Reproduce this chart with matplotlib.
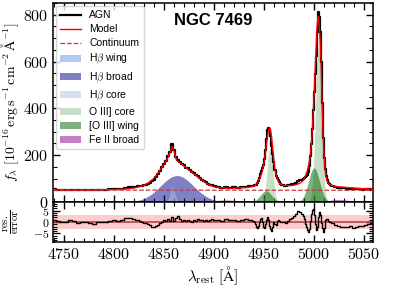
import numpy as np
import matplotlib
matplotlib.use("Agg")
import matplotlib.pyplot as plt
from matplotlib.ticker import MultipleLocator

plt.rcParams['font.family'] = 'serif'
plt.rcParams['font.serif'] = ['cmr10', 'DejaVu Serif']
plt.rcParams['mathtext.fontset'] = 'cm'
plt.rcParams['axes.formatter.use_mathtext'] = True
plt.rcParams['axes.unicode_minus'] = True

# ---------------- data ----------------
wave_a = [4740, 4744, 4748, 4752, 4756, 4760, 4764, 4768, 4772, 4776, 4780,
          4784, 4788, 4792, 4796, 4800, 4804, 4808, 4812, 4816, 4820]
wave_b = list(range(4822, 4901, 2))
wave_c = list(range(4904, 4941, 4))
wave_d = list(range(4941, 4971, 1))
wave_e = list(range(4972, 4989, 2))
wave_f = list(range(4989, 5017, 1))
wave_g = list(range(5018, 5061, 3))
wave = np.array(wave_a + wave_b + wave_c + wave_d + wave_e + wave_f + wave_g, dtype=float)

flux_agn = [
    # 4740-4820
    54, 52.5, 51.5, 51, 53, 52, 50, 51, 51.5, 50, 49.5, 52.5, 51.5, 52.5, 54, 55.5, 55, 57.5, 61, 63.5, 63.5,
    # 4822-4900
    65, 66.4, 67.8, 69.6, 71.1, 74.2, 78, 82.5, 88, 95, 105, 119, 134, 149, 163, 176, 195, 215, 246, 220,
    194, 180, 172, 164, 157, 147, 144, 136, 128, 123, 116, 111, 103, 96, 88, 84, 78, 73, 71, 67,
    # 4904-4940
    64.7, 61.8, 62.3, 61.1, 62, 61.5, 63.7, 65.6, 66.4, 68.9,
    # 4941-4970
    72.6, 73.6, 74.4, 79.2, 88.6, 102.3, 118.8, 134, 147, 159, 185, 224, 270, 306, 316, 307, 280, 238, 205, 172,
    137, 113, 103, 92.4, 84, 78, 74.4, 72.7, 72.3, 70.4,
    # 4972-4988
    69.2, 70.8, 72.8, 75.5, 78.5, 83, 89, 92, 95.5,
    # 4989-5016
    100, 103, 105, 110, 117, 130, 154, 196, 249, 313, 395, 470, 545, 622, 728, 812, 790, 725, 596, 423,
    275, 188, 143, 113, 94, 82.5, 76.6, 73,
    # 5018-5060
    69.2, 64, 60.5, 58.5, 58, 56.2, 56.2, 54, 54, 53.5, 53, 54, 53.8, 54.5, 54.2,
]

flux_model = [
    51, 51, 51, 51, 51, 51, 51, 51, 51, 51, 51.5, 52, 52, 52.5, 53, 53.5, 54, 55, 56, 58, 60,
    62, 64, 66, 69, 72, 76, 81, 87, 94, 102, 111, 123, 136, 148, 160, 174, 190, 212, 238, 218,
    186, 172, 167, 162, 153, 146, 140, 134, 127, 120, 114, 107, 100, 93, 87, 81, 76, 71, 68, 65,
    62, 60, 59, 59, 59, 60, 61, 62, 64, 68,
    72, 76, 81, 87, 94, 103, 114, 128, 146, 168, 195, 228, 265, 295, 312, 316, 296, 258, 213, 172,
    140, 117, 101, 90, 83, 78, 75, 73, 72, 71,
    70, 70, 70, 71, 72, 74, 77, 81, 87,
    92, 99, 107, 117, 129, 145, 166, 194, 232, 285, 360, 450, 550, 650, 745, 795, 760, 705, 600, 440,
    300, 200, 140, 108, 90, 81, 76, 73,
    70, 67, 65, 64, 63, 62, 61, 60, 59, 58, 57, 57, 56, 56, 55,
]

residual = [
    1.0, 0.5, 0.2, 0.0, 0.7, 0.3, -0.4, 0.0, 0.2, -0.3, -0.7, 0.1, -0.2, 0.0, 0.3, 0.7, 0.4, 0.8, 1.6, 1.9, 1.2,
    1.0, 0.8, 0.6, 0.2, -0.3, -0.6, -1.0, -1.5, -2.0, -2.3, -1.8, -1.2, -0.6, 0.2, 0.8, 0.4, 1.2, 0.6, 2.0, 0.5,
    1.8, 2.8, 1.2, 0.4, 0.9, 0.3, 1.0, 0.6, 0.2, 0.8, 0.5, 1.1, 0.7, 0.9, 0.4, 1.0, 0.6, 0.8, 1.2, 0.7,
    0.9, 0.6, 1.1, 0.7, 1.0, 0.5, 0.9, 1.2, 0.8, 0.3,
    0.2, -0.8, -2.2, -2.6, -1.8, -0.2, 1.2, 1.6, 0.2, -2.2, -2.6, -1.0, 1.0, 2.2, 0.8, -1.8, -3.2, -3.9, -2.0, 0.1,
    -0.9, -1.2, 0.6, 0.8, 0.3, 0.0, -0.2, -0.1, 0.1, -0.2,
    -0.3, 0.3, 1.1, 1.8, 2.6, 3.6, 4.8, 4.4, 3.4,
    2.6, 1.2, -0.7, -2.2, -3.5, -4.2, -3.0, 0.5, 3.6, 5.4, 5.8, 3.0, -0.7, -3.6, -2.0, 2.2, 4.3, 3.0, -0.5, -2.4,
    -4.3, -2.5, 0.7, 1.4, 1.2, 0.5, 0.2, 0.0,
    -0.3, -1.2, -1.8, -2.2, -2.0, -2.3, -1.9, -2.4, -2.0, -1.8, -1.6, -1.2, -0.9, -0.6, -0.3,
]

cont_wave = [4739, 5059]
cont_flux = [51, 50]

# Gaussian fit components: centre [A], amplitude, sigma [A]
hb_wing = dict(center=[4855.0], amp=[8.0], sigma=[6.0])
hb_broad = dict(center=[4863.0], amp=[113.0], sigma=[16.5])
hb_core = dict(center=[4858.5], amp=[62.0], sigma=[2.5])
oiii_core = dict(center=[4956.0, 5004.5], amp=[230.0, 660.0], sigma=[2.8, 3.0])
oiii_wing = dict(center=[4952.0, 5000.0], amp=[48.0, 145.0], sigma=[5.5, 5.5])
feii_broad = dict(center=[4912.0, 5025.0], amp=[9.0, 11.0], sigma=[12.0, 10.0])

# ---------------- figure ----------------
fig = plt.figure(figsize=(4.15, 2.88), dpi=100)
ax = fig.add_axes([0.1277, 0.2986, 0.7711, 0.691])
axr = fig.add_axes([0.1277, 0.1597, 0.7711, 0.1389], sharex=ax)

fine = np.linspace(4739, 5059, 1600)


def profile(comp):
    y = np.zeros_like(fine)
    for c, a, s in zip(comp['center'], comp['amp'], comp['sigma']):
        y += a * np.exp(-0.5 * ((fine - c) / s) ** 2)
    return y


comps = [
    (hb_wing, 'cornflowerblue', r'H$\beta$ wing'),
    (hb_broad, 'darkblue', r'H$\beta$ broad'),
    (hb_core, 'lightsteelblue', r'H$\beta$ core'),
    (oiii_core, 'darkseagreen', r'O III] core'),
    (oiii_wing, 'darkgreen', r'[O III] wing'),
    (feii_broad, 'darkmagenta', r'Fe II broad'),
]

ax.plot(wave, flux_agn, color='black', lw=1.6, drawstyle='steps-mid', label='AGN', zorder=3)
ax.plot(wave, flux_model, color='red', lw=1.0, label='Model', zorder=4)
ax.plot(cont_wave, cont_flux, color='#c8383a', lw=0.9, ls='--', label='Continuum', zorder=5)
for comp, col, lab in comps:
    ax.fill_between(fine, 0, profile(comp), color=col, alpha=0.5, lw=0, label=lab, zorder=2)

ax.set_xlim(4739, 5059)
ax.set_ylim(0, 850)
ax.set_ylabel(r"$f_\lambda\ [10^{-16}\,{\rm erg\,s^{-1}\,cm^{-2}\,\AA^{-1}}]$", fontsize=10)
ax.yaxis.set_label_coords(-0.1, 0.5)

ax.text(0.5, 0.91, 'NGC 7469', transform=ax.transAxes, ha='center', va='center',
        fontsize=12, fontweight='bold', family='Liberation Sans')

leg = ax.legend(loc='upper left', prop={'family': 'Liberation Sans', 'size': 7.5},
                labelspacing=0.38, handlelength=2.0, borderaxespad=0.3, borderpad=0.4,
                handletextpad=0.8, fancybox=True)

# residuals
axr.axhspan(-3, 3, color='red', alpha=0.2, lw=0)
axr.axhline(0, color='#b04848', lw=1.2)
axr.plot(wave, residual, color='black', lw=1.0, drawstyle='steps-mid')
axr.set_ylim(-8.7, 8.7)
axr.set_ylabel(r"$\frac{\rm res.}{\rm error}$", fontsize=11)
axr.yaxis.set_label_coords(-0.1, 0.5)
axr.set_xlabel(r"$\lambda_{\rm rest}\ [{\rm \AA}]$", fontsize=11, labelpad=2)

for a in (ax, axr):
    a.tick_params(which='both', direction='in', top=True, right=True, labelsize=11.5)
    a.tick_params(which='major', length=5, width=1.0)
    a.tick_params(which='minor', length=2.8, width=0.8)
    for s in a.spines.values():
        s.set_linewidth(1.1)
    a.xaxis.set_major_locator(MultipleLocator(50))
    a.xaxis.set_minor_locator(MultipleLocator(10))

axr.tick_params(axis='y', labelsize=8.5, pad=2.5)
ax.yaxis.set_major_locator(MultipleLocator(200))
ax.yaxis.set_minor_locator(MultipleLocator(50))
axr.yaxis.set_major_locator(MultipleLocator(5))
axr.yaxis.set_minor_locator(MultipleLocator(1))
plt.setp(ax.get_xticklabels(), visible=False)

fig.savefig('out.png', dpi=100)
